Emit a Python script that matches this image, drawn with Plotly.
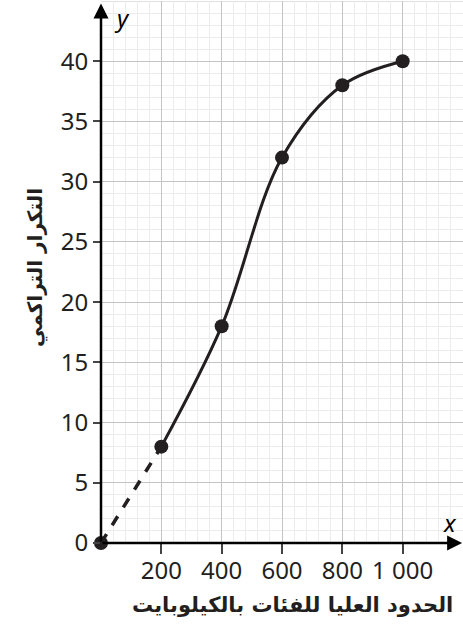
import plotly.graph_objects as go

# Data
x_dashed = [0, 200]
y_dashed = [0, 8]
x_solid = [200, 400, 600, 800, 1000]
y_solid = [8, 18, 32, 38, 40]
x_points = [0, 200, 400, 600, 800, 1000]
y_points = [0, 8, 18, 32, 38, 40]
x_tickvals = [200, 400, 600, 800, 1000]
x_ticktext = ["200", "400", "600", "800", "1 000"]
y_tickvals = [0, 5, 10, 15, 20, 25, 30, 35, 40]
y_ticktext = ["0", "5", "10", "15", "20", "25", "30", "35", "40"]
x_title = "الحدود العليا للفئات بالكيلوبايت"
y_title = "التكرار التراكمي"

INK = "#231f20"
TICKFONT = dict(family="Noto Sans, Open Sans, sans-serif", size=24, color=INK)
ARFONT = "DejaVu Sans, Noto Sans, sans-serif"

fig = go.Figure()
fig.add_trace(go.Scatter(x=x_dashed, y=y_dashed, mode="lines",
                         line=dict(color=INK, width=3.5, dash="dash"),
                         hoverinfo="skip", showlegend=False, cliponaxis=False))
fig.add_trace(go.Scatter(x=x_solid, y=y_solid, mode="lines",
                         line=dict(color=INK, width=3, shape="spline", smoothing=1.0),
                         hoverinfo="skip", showlegend=False, cliponaxis=False))
fig.add_trace(go.Scatter(x=x_points, y=y_points, mode="markers",
                         marker=dict(color=INK, size=14),
                         hoverinfo="skip", showlegend=False, cliponaxis=False))

fig.update_layout(
    width=463, height=624,
    margin=dict(l=101, r=0, t=1, b=81, autoexpand=False),
    plot_bgcolor="white", paper_bgcolor="white",
    font=dict(family="Noto Sans, Open Sans, sans-serif", color=INK, size=19),
    xaxis=dict(range=[0, 1200], tickvals=x_tickvals, ticktext=x_ticktext,
               ticks="outside", ticklen=10, tickwidth=2, tickcolor="#444",
               ticklabelstandoff=-4,
               showgrid=True, gridcolor="#c4c4c4", gridwidth=1,
               minor=dict(dtick=40, tick0=0, showgrid=True, gridcolor="#ececec", gridwidth=1),
               zeroline=False, showline=False, fixedrange=True, automargin=False,
               tickfont=TICKFONT),
    yaxis=dict(range=[0, 45], tickvals=y_tickvals, ticktext=y_ticktext,
               ticks="outside", ticklen=7, tickwidth=2, tickcolor="#444",
               showgrid=True, gridcolor="#c4c4c4", gridwidth=1,
               minor=dict(dtick=1, tick0=0, showgrid=True, gridcolor="#ececec", gridwidth=1),
               zeroline=False, showline=False, fixedrange=True, automargin=False,
               tickfont=TICKFONT),
)

fig.add_shape(type="line", xref="x", yref="y", x0=0, x1=1200, y0=45, y1=45,
              line=dict(color="#c4c4c4", width=1), layer="below")

# Axes with arrows
fig.add_annotation(x=1197, y=0, ax=0, ay=0, xref="x", yref="y", axref="x", ayref="y",
                   showarrow=True, arrowhead=2, arrowsize=1.2, arrowwidth=2.5,
                   arrowcolor="black", text="", standoff=0)
fig.add_annotation(x=0, y=44.8, ax=0, ay=0, xref="x", yref="y", axref="x", ayref="y",
                   showarrow=True, arrowhead=2, arrowsize=1.2, arrowwidth=2.5,
                   arrowcolor="black", text="", standoff=0)

# axis letters
fig.add_annotation(x=122, y=17, xref="paper", yref="paper", text="<i>y</i>",
                   showarrow=False, font=dict(size=24, color="black"))
fig.add_annotation(x=450, y=522, xref="paper", yref="paper", text="<i>x</i>",
                   showarrow=False, font=dict(size=24, color="black"))

# titles
fig.add_annotation(x=292, y=605, xref="paper", yref="paper", text=f"<b>{x_title}</b>",
                   showarrow=False, font=dict(family=ARFONT, size=21, color=INK))
fig.add_annotation(x=35, y=268, xref="paper", yref="paper", text=f"<b>{y_title}</b>",
                   showarrow=False, textangle=-90, font=dict(family=ARFONT, size=20, color=INK))

# convert pixel-based annotations to paper coords
W, H = 463, 624
ml, mr, mt, mb = 101, 0, 1, 81
pw, ph = W - ml - mr, H - mt - mb
for ann in fig.layout.annotations:
    if ann.xref == "paper" and ann.yref == "paper":
        px, py = ann.x, ann.y
        ann.x = (px - ml) / pw
        ann.y = (H - mb - py) / ph
        ann.xanchor = "center"
        ann.yanchor = "middle"

fig.write_html("out.html", config={"displayModeBar": False},
               post_script="document.body.style.margin='0';document.body.style.overflow='hidden';")
